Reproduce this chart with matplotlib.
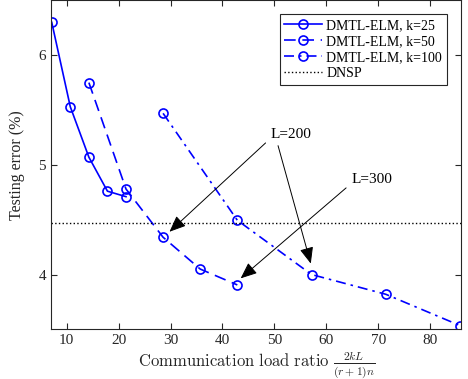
import matplotlib
matplotlib.use("Agg")
import matplotlib.pyplot as plt

plt.rcParams['font.family'] = ['Liberation Serif', 'DejaVu Serif']
plt.rcParams['mathtext.fontset'] = 'cm'

# data
x_k25 = [7.14, 10.71, 14.29, 17.86, 21.43]
y_k25 = [6.30, 5.53, 5.07, 4.76, 4.71]
x_k50 = [14.29, 21.43, 28.57, 35.71, 42.86]
y_k50 = [5.75, 4.78, 4.34, 4.05, 3.905]
x_k100 = [28.57, 42.86, 57.14, 71.43, 85.71]
y_k100 = [5.47, 4.495, 4.00, 3.82, 3.535]
dnsp = 4.47

fig = plt.figure(figsize=(4.68, 3.79), dpi=100)
ax = fig.add_axes([0.109, 0.131, 0.877, 0.868])

blue = (0, 0, 1)
mk = dict(marker='o', markersize=6.5, markerfacecolor='none', markeredgewidth=1.2)
ax.plot(x_k25, y_k25, '-', color=blue, lw=1.2, label='DMTL-ELM, k=25', **mk)
ax.plot(x_k50, y_k50, '--', color=blue, lw=1.2, dashes=(7, 4), label='DMTL-ELM, k=50', **mk)
ax.plot(x_k100, y_k100, '-.', color=blue, lw=1.2, dashes=(6, 3, 1.5, 3), label='DMTL-ELM, k=100', **mk)
ax.axhline(dnsp, color='black', ls=':', lw=1.0, label='DNSP')

arrow = dict(arrowstyle='-|>,head_length=1.0,head_width=0.42', color='black', lw=0.7,
             shrinkA=0, shrinkB=0)
ax.annotate('', xy=(29.8, 4.39), xytext=(48.3, 5.20), arrowprops=arrow)
ax.annotate('', xy=(57.0, 4.10), xytext=(50.7, 5.175), arrowprops=arrow)
ax.annotate('', xy=(43.5, 3.965), xytext=(63.8, 4.79), arrowprops=arrow)
ax.text(49.3, 5.275, 'L=200', fontsize=11, va='center', ha='left')
ax.text(64.9, 4.864, 'L=300', fontsize=11, va='center', ha='left')

ax.set_xlim(7, 86)
ax.set_ylim(3.5, 6.5)
ax.set_xticks([10, 20, 30, 40, 50, 60, 70, 80])
ax.set_yticks([4, 5, 6])
ax.tick_params(direction='in', top=True, right=True, labelsize=11, colors='#262626', length=4)
for s in ax.spines.values():
    s.set_color('#262626')
    s.set_linewidth(0.8)

ax.set_xlabel(r'$\mathrm{Communication\ load\ ratio}\ \frac{2kL}{(r+1)n}$',
              fontsize=12, color='#262626', labelpad=1)
ax.set_ylabel('Testing error (%)', fontsize=11.5, color='#262626')
ax.yaxis.set_label_coords(-0.063, 0.5)

leg = ax.legend(loc='upper right', fontsize=10, fancybox=False, edgecolor='#262626',
                framealpha=1, handlelength=2.7, handletextpad=0.3, borderpad=0.35,
                labelspacing=0.22, borderaxespad=0, bbox_to_anchor=(0.964, 0.958))
leg.get_frame().set_linewidth(0.8)

fig.savefig('out.png', dpi=100)
